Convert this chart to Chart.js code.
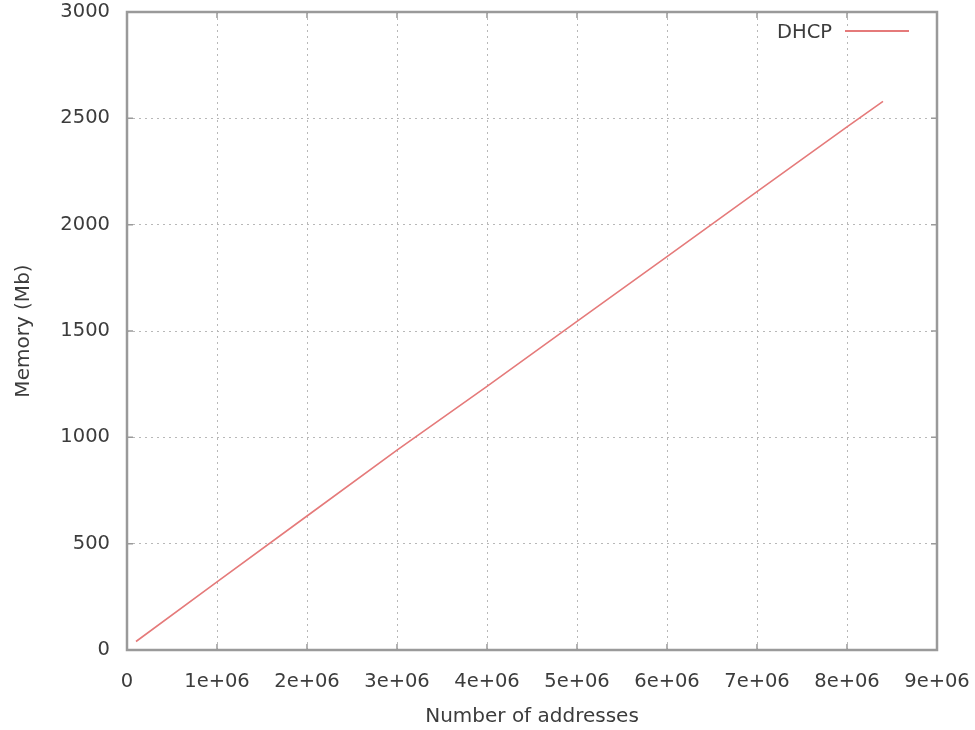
<!DOCTYPE html>
<html>
<head>
<meta charset="utf-8">
<title>DHCP memory</title>
<script src="https://cdn.jsdelivr.net/npm/chart.js@4.4.0/dist/chart.umd.min.js"></script>
<style>
  html, body { margin: 0; padding: 0; background: #fff; }
  #wrap { width: 975px; height: 730px; position: relative; }
</style>
</head>
<body>
<div id="wrap"><canvas id="chart"></canvas></div>
<script>
// values
const addresses = [100000, 1000000, 2000000, 3000000, 4000000, 5000000, 6000000, 7000000, 8000000, 8400000];
const memoryMb = [40, 320, 630, 940, 1240, 1545, 1850, 2155, 2460, 2580];
const seriesLabel = 'DHCP';
const xTitle = 'Number of addresses';
const yTitle = 'Memory (Mb)';

const textColor = '#3c3c3c';
const frameColor = '#9a9a9a';
const gridColor = '#b8b8b8';
const lineColor = '#e57a7a';

// gnuplot style frame, inward ticks and the legend in the top right corner
const gnuplotFrame = {
  id: 'gnuplotFrame',
  afterDatasetsDraw(chart) {
    const { ctx, chartArea: a, scales } = chart;
    ctx.save();
    ctx.strokeStyle = frameColor;
    ctx.lineWidth = 2.5;
    ctx.strokeRect(a.left, a.top, a.right - a.left, a.bottom - a.top);

    ctx.lineWidth = 1.5;
    ctx.beginPath();
    scales.x.ticks.forEach(t => {
      const px = scales.x.getPixelForValue(t.value);
      ctx.moveTo(px, a.bottom); ctx.lineTo(px, a.bottom - 6);
      ctx.moveTo(px, a.top); ctx.lineTo(px, a.top + 6);
    });
    scales.y.ticks.forEach(t => {
      const py = scales.y.getPixelForValue(t.value);
      ctx.moveTo(a.left, py); ctx.lineTo(a.left + 6, py);
      ctx.moveTo(a.right, py); ctx.lineTo(a.right - 6, py);
    });
    ctx.stroke();

    // legend
    const ds = chart.data.datasets[0];
    ctx.font = '19.5px "DejaVu Sans"';
    ctx.fillStyle = textColor;
    ctx.textAlign = 'right';
    ctx.textBaseline = 'middle';
    ctx.fillText(ds.label, a.right - 105, a.top + 21);
    ctx.strokeStyle = ds.borderColor;
    ctx.lineWidth = 2;
    ctx.beginPath();
    ctx.moveTo(a.right - 92, a.top + 19);
    ctx.lineTo(a.right - 28, a.top + 19);
    ctx.stroke();
    ctx.restore();
  }
};

new Chart(document.getElementById('chart'), {
  type: 'line',
  data: {
    datasets: [{
      label: seriesLabel,
      data: addresses.map((x, i) => ({ x: x, y: memoryMb[i] })),
      borderColor: lineColor,
      borderWidth: 1.6,
      pointRadius: 0,
      tension: 0,
      fill: false
    }]
  },
  options: {
    responsive: true,
    maintainAspectRatio: false,
    animation: false,
    layout: { padding: { top: 12, right: 38, left: 0, bottom: 0 } },
    plugins: {
      legend: { display: false },
      tooltip: { enabled: false }
    },
    scales: {
      x: {
        type: 'linear',
        min: 0,
        max: 9000000,
        afterFit: s => {
          s.height = 80;
          s.paddingLeft = 0;
          s.paddingRight = 0;
        },
        border: { display: false, dash: [2, 4] },
        grid: {
          color: gridColor,
          lineWidth: 1,
          drawTicks: false
        },
        ticks: {
          stepSize: 1000000,
          padding: 20,
          color: textColor,
          font: { family: 'DejaVu Sans', size: 19.5 },
          maxRotation: 0,
          callback: v => v === 0 ? '0' : (v / 1000000) + 'e+06'
        },
        title: {
          display: true,
          text: xTitle,
          color: textColor,
          font: { family: 'DejaVu Sans', size: 20 },
          padding: { top: 1, bottom: 1 }
        }
      },
      y: {
        min: 0,
        max: 3000,
        afterFit: s => {
          s.width = 127;
          s.paddingTop = 0;
          s.paddingBottom = 0;
        },
        border: { display: false, dash: [2, 4] },
        grid: {
          color: gridColor,
          lineWidth: 1,
          drawTicks: false
        },
        ticks: {
          stepSize: 500,
          padding: 17,
          color: textColor,
          font: { family: 'DejaVu Sans', size: 19.5 },
          callback: v => String(v)
        },
        title: {
          display: true,
          text: yTitle,
          color: textColor,
          font: { family: 'DejaVu Sans', size: 20 },
          padding: { top: 12, bottom: 12 }
        }
      }
    }
  },
  plugins: [gnuplotFrame]
});
</script>
</body>
</html>
